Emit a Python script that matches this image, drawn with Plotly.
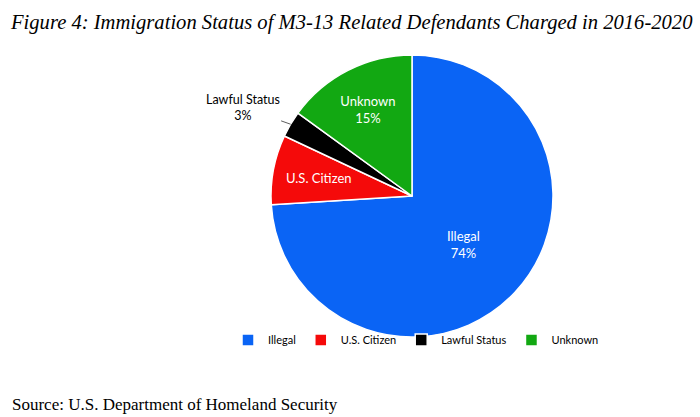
import math
import plotly.graph_objects as go

categories = ["Illegal", "U.S. Citizen", "Lawful Status", "Unknown"]
values = [74, 8, 3, 15]
colors = ["#0a64f5", "#f50a0a", "#000000", "#12a812"]
slice_text = ["Illegal<br>74%", "", "", "Unknown<br>15%"]

W, H = 700, 417
cx, cy, R = 412, 196, 141
dom_x = [(cx - R) / W, (cx + R) / W]
dom_y = [1 - (cy + R) / H, 1 - (cy - R) / H]

fig = go.Figure(go.Pie(
    labels=categories,
    values=values,
    sort=False,
    direction="clockwise",
    rotation=0,
    marker=dict(colors=colors, line=dict(color="white", width=1.5)),
    text=slice_text,
    textinfo="text",
    textposition="inside",
    insidetextorientation="horizontal",
    textfont=dict(family="Lato", size=13, color="white"),
    domain=dict(x=dom_x, y=dom_y),
    hoverinfo="label+percent",
))

total = sum(values)


def slice_point(i, frac_r):
    mid = (sum(values[:i]) + values[i] / 2) / total
    th = 2 * math.pi * mid
    return cx + frac_r * R * math.sin(th), cy - frac_r * R * math.cos(th)


# U.S. Citizen label inside its slice
ux, uy = slice_point(1, 0.67)
fig.add_annotation(
    x=ux / W, y=1 - uy / H, xref="paper", yref="paper", showarrow=False,
    text="U.S. Citizen", font=dict(family="Lato", size=13, color="white"),
)

# leader-line label for the small slice
px_tip, py_tip = slice_point(2, 1.0)
fig.add_annotation(
    x=px_tip / W, y=1 - py_tip / H, xref="paper", yref="paper",
    text="Lawful Status<br>3%", showarrow=True, arrowhead=0, arrowwidth=0.8,
    arrowcolor="#333333", ax=-48, ay=-17, standoff=0, startstandoff=0,
    font=dict(family="Lato", size=12.5, color="black"), align="center",
)

fig.add_annotation(
    x=8 / W, y=1 - 22 / H, xref="paper", yref="paper", xanchor="left", yanchor="middle",
    text="<i>Figure 4: Immigration Status of M3-13 Related Defendants Charged in 2016-2020</i>",
    showarrow=False, font=dict(family="Liberation Serif", size=20.6, color="black"),
)
fig.add_annotation(
    x=10 / W, y=1 - 404 / H, xref="paper", yref="paper", xanchor="left", yanchor="middle",
    text="Source: U.S. Department of Homeland Security",
    showarrow=False, font=dict(family="Liberation Serif", size=17, color="black"),
)

fig.update_layout(
    width=W, height=H,
    margin=dict(l=0, r=0, t=0, b=0),
    paper_bgcolor="white", plot_bgcolor="white",
    showlegend=True,
    legend=dict(orientation="h", x=416 / W, xanchor="center", y=1 - 340 / H, yanchor="middle",
                font=dict(family="Lato", size=11, color="black"), itemwidth=30,
                bgcolor="rgba(0,0,0,0)"),
)

fig.write_html("out.html")
